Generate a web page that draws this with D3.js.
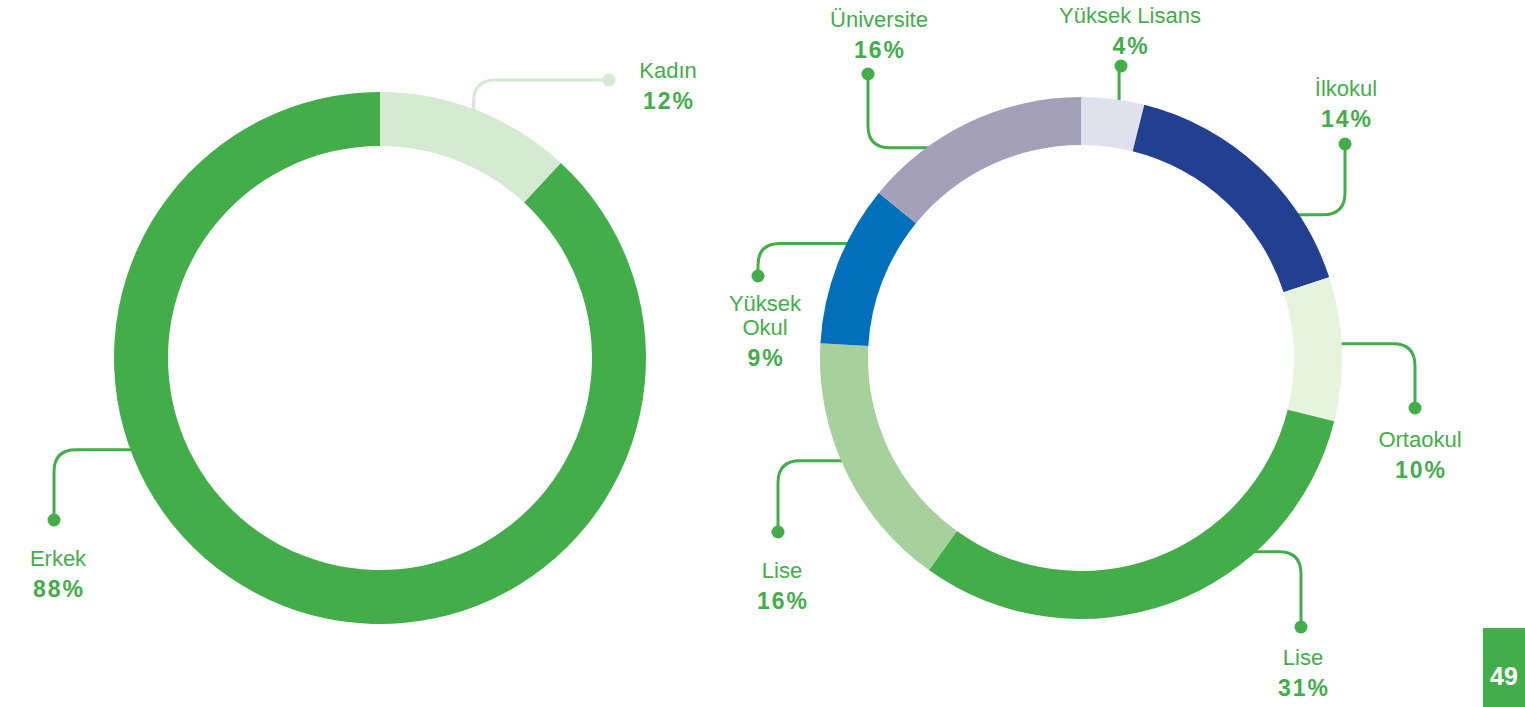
<!DOCTYPE html>
<html><head><meta charset="utf-8">
<script src="https://cdn.jsdelivr.net/npm/d3@7"></script>
<style>
html,body{margin:0;padding:0;background:#fff;}
svg{display:block;font-family:"Liberation Sans",Arial,Helvetica,sans-serif;}
</style></head>
<body>
<svg id="c" width="1525" height="707"></svg>
<script>
// ---- data ----
const genderCategories = ["Kadın", "Erkek"];
const genderShares = [11.9, 88.1];          // arc sizes as drawn
const genderLabels = ["12%", "88%"];

const eduCategories = ["Yüksek Lisans", "İlkokul", "Ortaokul", "Lise", "Lise", "Yüksek Okul", "Üniversite"];
const eduShares = [3.9, 16.1, 8.9, 31.0, 16.0, 10.0, 14.1];   // arc sizes as drawn
const eduLabels = ["4%", "14%", "10%", "31%", "16%", "9%", "16%"];

const pageNumber = "49";

// ---- styles / layout ----
const GREEN = "#43ad4a";
const genderColors = ["#d6e9d2", GREEN];
const eduColors = ["#e1e1ee", "#233f8f", "#e6f3dd", GREEN, "#a6d09c", "#0070ba", "#a5a0ba"];

const svg = d3.select("#c");

const donuts = [
  {cats: genderCategories, vals: genderShares, labs: genderLabels, colors: genderColors,
   cx: 380, cy: 358, rO: 266, rI: 212,
   leaders: [
     {angle: 21.6, first: "v", dot: [609, 80], color: "#d6e9d2", text: {x: 668, y: 78, lines: ["Kadın"]}},
     {angle: 248.8, first: "h", dot: [54, 520], color: GREEN, text: {x: 58, y: 566, lines: ["Erkek"]}}
   ]},
  {cats: eduCategories, vals: eduShares, labs: eduLabels, colors: eduColors,
   cx: 1081, cy: 358, rO: 261, rI: 213,
   leaders: [
     {angle: 8.8, first: "v", dot: [1121, 66], color: GREEN, text: {x: 1130, y: 23, lines: ["Yüksek Lisans"]}},
     {angle: 54.9, first: "h", dot: [1345, 144], color: GREEN, text: {x: 1346, y: 96, lines: ["İlkokul"]}},
     {angle: 86.7, first: "h", dot: [1415, 408], color: GREEN, text: {x: 1420, y: 447, lines: ["Ortaokul"]}},
     {angle: 141.1, first: "h", dot: [1301, 627], color: GREEN, text: {x: 1303, y: 665, lines: ["Lise"]}},
     {angle: 245.6, first: "h", dot: [778, 532], color: GREEN, text: {x: 782, y: 578, lines: ["Lise"]}},
     {angle: 297.4, first: "h", dot: [758, 276], color: GREEN, text: {x: 765, y: 311, lines: ["Yüksek", "Okul"]}},
     {angle: 327.6, first: "h", dot: [868, 74], color: GREEN, text: {x: 879, y: 27, lines: ["Üniversite"]}}
   ]}
];

function leaderPath(S, C, P, r) {
  const d = d3.path();
  d.moveTo(S[0], S[1]);
  const l0 = Math.hypot(C[0]-S[0], C[1]-S[1]);
  const l1 = Math.hypot(P[0]-C[0], P[1]-C[1]);
  if (l1 < 0.5 || l0 < 0.5) { d.lineTo(P[0], P[1]); return d.toString(); }
  const u0 = [(C[0]-S[0])/l0, (C[1]-S[1])/l0];
  const u1 = [(P[0]-C[0])/l1, (P[1]-C[1])/l1];
  const rr = Math.min(r, l0, l1);
  d.lineTo(C[0]-u0[0]*rr, C[1]-u0[1]*rr);
  d.quadraticCurveTo(C[0], C[1], C[0]+u1[0]*rr, C[1]+u1[1]*rr);
  d.lineTo(P[0], P[1]);
  return d.toString();
}

donuts.forEach(D => {
  const g = svg.append("g");
  const color = d3.scaleOrdinal().domain(d3.range(D.vals.length)).range(D.colors);
  const pie = d3.pie().value(d => d).sort(null);
  const arc = d3.arc().innerRadius(D.rI).outerRadius(D.rO);

  // leader lines (under the ring)
  D.leaders.forEach((L, i) => {
    const a = L.angle * Math.PI / 180;
    const rs = D.rO - 12;
    const S = [D.cx + rs*Math.sin(a), D.cy - rs*Math.cos(a)];
    const C = L.first === "h" ? [L.dot[0], S[1]] : [S[0], L.dot[1]];
    g.append("path").attr("d", leaderPath(S, C, L.dot, 22))
      .attr("fill", "none").attr("stroke", L.color).attr("stroke-width", 3);
    g.append("circle").attr("cx", L.dot[0]).attr("cy", L.dot[1]).attr("r", 6.5).attr("fill", L.color);

    const t = g.append("text").attr("text-anchor", "middle").attr("fill", GREEN);
    L.text.lines.forEach((ln, k) => {
      t.append("tspan").attr("x", L.text.x).attr("y", L.text.y + k*24)
        .attr("font-size", 22).text(ln);
    });
    const py = L.text.y + (L.text.lines.length - 1)*24 + 31;
    g.append("text").attr("text-anchor", "middle").attr("fill", GREEN)
      .attr("x", L.text.x + 1).attr("y", py)
      .attr("font-size", 23).attr("font-weight", "bold").attr("letter-spacing", 2)
      .text(D.labs[i]);
  });

  g.append("g").attr("transform", `translate(${D.cx},${D.cy})`)
    .selectAll("path").data(pie(D.vals)).join("path")
    .attr("d", arc).attr("fill", (d, i) => color(i));
});

// page number
svg.append("rect").attr("x", 1483).attr("y", 628).attr("width", 42).attr("height", 79).attr("fill", GREEN);
svg.append("text").attr("x", 1504).attr("y", 685).attr("text-anchor", "middle")
  .attr("fill", "#fff").attr("font-weight", "bold").attr("font-size", 25).text(pageNumber);
</script>
</body></html>
